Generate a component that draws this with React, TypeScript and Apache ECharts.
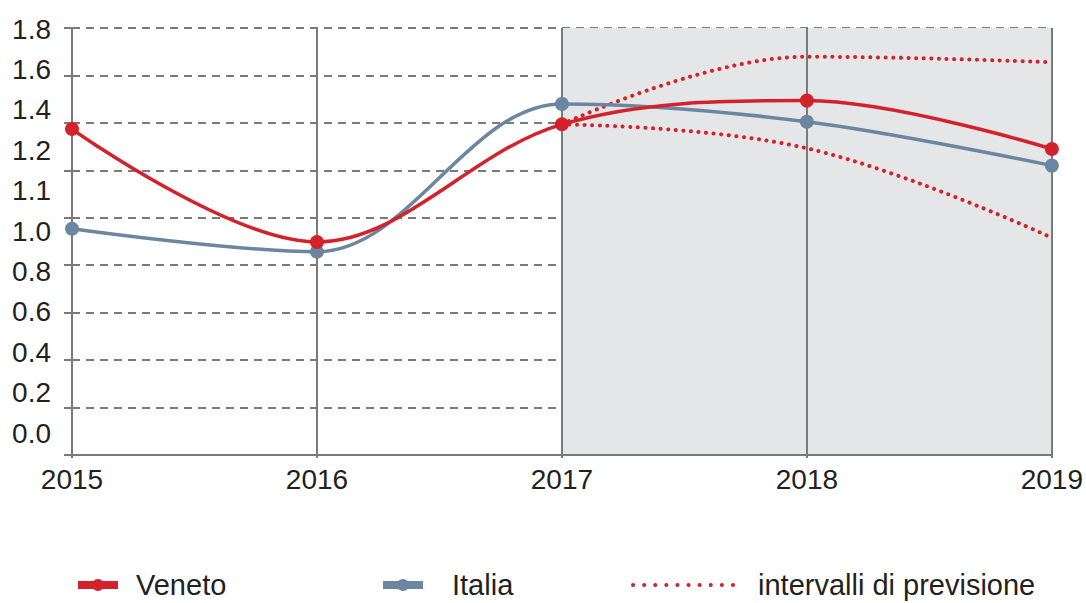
import React, { useEffect, useRef } from 'react';
import * as echarts from 'echarts';

const years = [2015, 2016, 2017, 2018, 2019];
const veneto = [1.374, 0.898, 1.394, 1.494, 1.29];
const italia = [0.954, 0.857, 1.48, 1.405, 1.22];
const forecastYears = [2017, 2018, 2019];
const upperBand = [1.394, 1.679, 1.656];
const lowerBand = [1.394, 1.293, 0.916];
const yTickLabels = ['0.0', '0.2', '0.4', '0.6', '0.8', '1.0', '1.1', '1.2', '1.4', '1.6', '1.8'];

const RED = '#d3222b';
const BLUE = '#6a86a0';
const GRID = '#7a7a7a';
const TEXT = '#231f20';
const FONT = '"Liberation Sans", Arial, sans-serif';
const FS = 28;
const LFS = 29;

const pairs = (xs: number[], ys: number[]) => xs.map((x, i) => [x, ys[i]]);

export default function App() {
  const ref = useRef<HTMLDivElement>(null);
  useEffect(() => {
    if (!ref.current) return;
    const chart = echarts.init(ref.current, null, { renderer: 'svg' });
    const legendText = (pad: number) => ({
      fontSize: LFS,
      fontFamily: FONT,
      color: TEXT,
      lineHeight: 30,
      padding: [0, 0, 0, pad],
    });
    const option: any = {
      animation: false,
      backgroundColor: '#ffffff',
      textStyle: { fontFamily: FONT, color: TEXT },
      grid: [
        { left: 72, right: 34, top: 28, bottom: 148, containLabel: false },
        { left: 72, right: 34, top: 29, bottom: 170, containLabel: false, show: false },
      ],
      xAxis: [
        {
          type: 'value',
          gridIndex: 0,
          min: 2015,
          max: 2019,
          interval: 1,
          axisLine: { show: true, lineStyle: { color: GRID, width: 2 } },
          axisTick: { show: true, length: 3, lineStyle: { color: GRID, width: 2 } },
          axisLabel: {
            show: true,
            fontSize: FS,
            fontFamily: FONT,
            color: TEXT,
            margin: 10,
            showMinLabel: true,
            showMaxLabel: true,
            formatter: (v: number) => String(v),
          },
          splitLine: { show: true, lineStyle: { color: GRID, width: 2, type: 'solid' } },
          splitArea: {
            show: true,
            areaStyle: { color: ['rgba(0,0,0,0)', 'rgba(0,0,0,0)', '#e5e6e8', '#e5e6e8'] },
          },
        },
        { type: 'value', gridIndex: 1, show: false, min: 0, max: 1 },
      ],
      yAxis: [
        {
          type: 'value',
          gridIndex: 0,
          min: 0,
          max: 1.8,
          interval: 0.2,
          axisLine: { show: true, lineStyle: { color: GRID, width: 2 } },
          axisTick: { show: true, length: 8, lineStyle: { color: GRID, width: 2 } },
          axisLabel: { show: false },
          splitLine: { show: true, lineStyle: { color: GRID, width: 2, type: [8, 6] } },
        },
        {
          type: 'category',
          gridIndex: 1,
          data: yTickLabels,
          boundaryGap: false,
          axisLine: { show: false },
          axisTick: { show: false },
          splitLine: { show: false },
          axisLabel: { show: true, interval: 0, margin: 21, fontSize: FS, fontFamily: FONT, color: TEXT },
        },
      ],
      legend: [
        {
          data: ['Veneto'],
          left: 74,
          top: 570,
          padding: 0,
          itemWidth: 40,
          itemHeight: 15,
          lineStyle: { width: 8 },
          textStyle: legendText(13),
        },
        {
          data: ['Italia'],
          left: 379,
          top: 570,
          padding: 0,
          itemWidth: 40,
          itemHeight: 15,
          lineStyle: { width: 8 },
          textStyle: legendText(24),
        },
        {
          data: ['intervalli di previsione'],
          left: 631,
          top: 570,
          padding: 0,
          itemWidth: 106,
          itemHeight: 15,
          itemStyle: { opacity: 0 },
          lineStyle: { width: 4, type: [0.1, 11], cap: 'round' },
          textStyle: legendText(14),
        },
      ],
      series: [
        {
          name: 'intervalli di previsione',
          type: 'line',
          xAxisIndex: 0,
          yAxisIndex: 0,
          data: pairs(forecastYears, upperBand),
          smooth: 0.4,
          symbol: 'none',
          itemStyle: { color: RED },
          lineStyle: { color: RED, width: 4, type: [0.1, 7.5], cap: 'round' },
          z: 3,
        },
        {
          name: 'intervalli di previsione',
          type: 'line',
          xAxisIndex: 0,
          yAxisIndex: 0,
          data: pairs(forecastYears, lowerBand),
          smooth: 0.4,
          symbol: 'none',
          itemStyle: { color: RED },
          lineStyle: { color: RED, width: 4, type: [0.1, 7.5], cap: 'round' },
          z: 3,
        },
        {
          name: 'Italia',
          type: 'line',
          xAxisIndex: 0,
          yAxisIndex: 0,
          data: pairs(years, italia),
          smooth: 0.35,
          symbol: 'circle',
          symbolSize: 14,
          itemStyle: { color: BLUE },
          lineStyle: { color: BLUE, width: 3.5 },
          z: 4,
        },
        {
          name: 'Veneto',
          type: 'line',
          xAxisIndex: 0,
          yAxisIndex: 0,
          data: pairs(years, veneto),
          smooth: 0.35,
          symbol: 'circle',
          symbolSize: 14,
          itemStyle: { color: RED },
          lineStyle: { color: RED, width: 3.5 },
          z: 5,
        },
      ],
    };
    chart.setOption(option);
    return () => chart.dispose();
  }, []);
  return (
    <div
      ref={ref}
      style={{ position: 'fixed', left: 0, top: 0, width: 1086, height: 603, background: '#fff' }}
    />
  );
}
